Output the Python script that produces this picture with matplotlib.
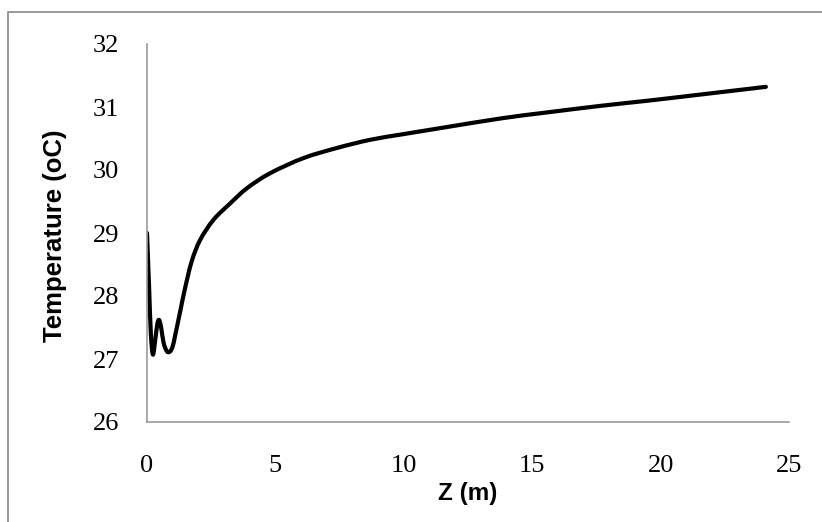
import matplotlib.pyplot as plt
import numpy as np
from matplotlib.patches import Rectangle, PathPatch
from matplotlib.path import Path

# depth along the pipe (m) and temperature (oC)
z = [0.0, 0.08, 0.15, 0.23, 0.32, 0.40, 0.47, 0.55, 0.65, 0.78, 0.90, 1.0,
     1.1, 1.29, 1.48, 1.74, 2.07, 2.59, 3.24, 3.89, 4.8, 6.1, 7.4, 8.7,
     10.0, 11.5, 13.8, 15.5, 17.7, 19.5, 21.6, 24.1]
temp = [29.0, 28.15, 27.4, 27.07, 27.3, 27.55, 27.62, 27.5, 27.25, 27.12, 27.12, 27.2,
        27.38, 27.75, 28.12, 28.55, 28.89, 29.21, 29.47, 29.71, 29.95, 30.19, 30.35, 30.48,
        30.57, 30.67, 30.82, 30.91, 31.02, 31.10, 31.20, 31.32]

xticks = [0, 5, 10, 15, 20, 25]
yticks = [26, 27, 28, 29, 30, 31, 32]


def smooth_path(xs, ys):
    # Excel-like smoothed line: Catmull-Rom segments as cubic Beziers
    p = np.column_stack([xs, ys]).astype(float)
    p = np.vstack([p[0], p, p[-1]])
    verts = [p[1]]
    codes = [Path.MOVETO]
    for i in range(1, len(p) - 2):
        c1 = p[i] + (p[i + 1] - p[i - 1]) / 6
        c2 = p[i + 1] - (p[i + 2] - p[i]) / 6
        verts += [c1, c2, p[i + 1]]
        codes += [Path.CURVE4] * 3
    return Path(verts, codes)


fig = plt.figure(figsize=(8.22, 5.22), dpi=100)
# outer frame of the chart area
fig.patches.append(Rectangle((8 / 822, -0.1), 1.2, 1.1 - 12 / 522,
                             transform=fig.transFigure, fill=False,
                             edgecolor='#888888', linewidth=1.2))
ax = fig.add_axes([147 / 822, 100 / 522, 642 / 822, 378 / 522])

ax.add_patch(PathPatch(smooth_path(z, temp), fill=False, edgecolor='black',
                       linewidth=3, capstyle='round', joinstyle='round'))

ax.set_xlim(0, 25)
ax.set_ylim(26, 32)
ax.set_xticks(xticks)
ax.set_yticks(yticks)
for s in ['top', 'right']:
    ax.spines[s].set_visible(False)
for s in ['left', 'bottom']:
    ax.spines[s].set_color('#999999')
    ax.spines[s].set_linewidth(1.2)
ax.tick_params(length=0, labelsize=19)
ax.tick_params(axis='y', pad=20)
ax.tick_params(axis='x', pad=24)
for lab in ax.get_xticklabels() + ax.get_yticklabels():
    lab.set_fontfamily('Liberation Serif')

ax.set_xlabel('Z (m)', fontsize=17.5, fontweight='bold', family='Liberation Sans')
ax.set_ylabel('Temperature (oC)', fontsize=18.5, fontweight='bold', family='Liberation Sans')
ax.xaxis.set_label_coords(0.5, -0.188)
ax.yaxis.set_label_coords(-0.143, 0.492)
ax.xaxis.label.set_va('center')
ax.yaxis.label.set_va('center')

fig.savefig('out.png', dpi=100)
